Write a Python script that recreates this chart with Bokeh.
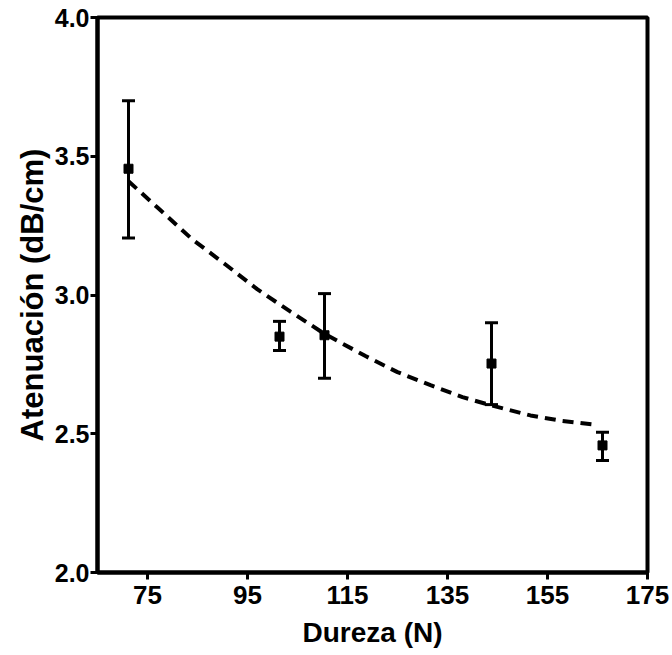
from bokeh.plotting import figure
from bokeh.models import ColumnDataSource, Whisker, TeeHead, FixedTicker, Range1d, NumeralTickFormatter
from bokeh.embed import file_html
from bokeh.resources import INLINE

# Data
dureza = [71.2, 101.4, 110.4, 143.8, 166.0]
atenuacion = [3.455, 2.85, 2.855, 2.753, 2.458]
err_low = [3.205, 2.80, 2.70, 2.605, 2.404]
err_high = [3.70, 2.905, 3.005, 2.90, 2.505]

# dashed fitted curve
fit_x = [71.2, 77, 84, 90.6, 97, 103.6, 110.4, 118.6, 125, 131.6, 138, 143.8, 151.6, 158, 164.2]
fit_y = [3.41, 3.315, 3.20, 3.11, 3.02, 2.94, 2.86, 2.78, 2.722, 2.675, 2.632, 2.602, 2.566, 2.546, 2.533]

x_ticks = [75, 95, 115, 135, 155, 175]
y_ticks = [2.0, 2.5, 3.0, 3.5, 4.0]

FONT = "Liberation Sans"

p = figure(width=672, height=655, output_backend="svg", toolbar_location=None,
           x_range=Range1d(65, 175), y_range=Range1d(2.0, 4.0),
           min_border_left=97, min_border_right=25, min_border_top=17, min_border_bottom=83)

p.xgrid.visible = False
p.ygrid.visible = False
p.outline_line_color = "black"
p.outline_line_width = 4
p.outline_line_alpha = 1.0

for ax in (p.xaxis[0], p.yaxis[0]):
    ax.axis_line_width = 4
    ax.major_tick_line_width = 3
    ax.major_tick_out = 7
    ax.major_tick_in = 0
    ax.minor_tick_line_color = None
    ax.major_label_text_font = FONT
    ax.major_label_text_font_style = "bold"
    ax.major_label_text_color = "black"
    ax.axis_label_text_font = FONT
    ax.axis_label_text_font_style = "bold"
    ax.axis_label_text_color = "black"

p.xaxis.major_label_text_font_size = "26px"
p.yaxis.major_label_text_font_size = "25px"
p.xaxis.axis_label_text_font_size = "28px"
p.yaxis.axis_label_text_font_size = "31px"

p.xaxis.ticker = FixedTicker(ticks=x_ticks)
p.yaxis.ticker = FixedTicker(ticks=y_ticks)
p.yaxis.formatter = NumeralTickFormatter(format="0.0")
p.xaxis.axis_label = "Dureza (N)"
p.yaxis.axis_label = "Atenuación (dB/cm)"
p.xaxis.major_label_standoff = 6
p.yaxis.major_label_standoff = 1
p.xaxis.axis_label_standoff = 10
p.yaxis.axis_label_standoff = 2

# fitted curve
p.line(fit_x, fit_y, line_color="black", line_width=4, line_dash="11 7")

src = ColumnDataSource(dict(x=dureza, y=atenuacion, lo=err_low, hi=err_high))
w = Whisker(source=src, base="x", upper="hi", lower="lo", line_width=3, line_color="black",
            upper_head=TeeHead(size=13, line_width=3, line_color="black"),
            lower_head=TeeHead(size=13, line_width=3, line_color="black"))
p.add_layout(w)
p.scatter("x", "y", source=src, marker="square", size=9, fill_color="black", line_color="black")

open("out.html", "w").write(file_html(p, INLINE))
